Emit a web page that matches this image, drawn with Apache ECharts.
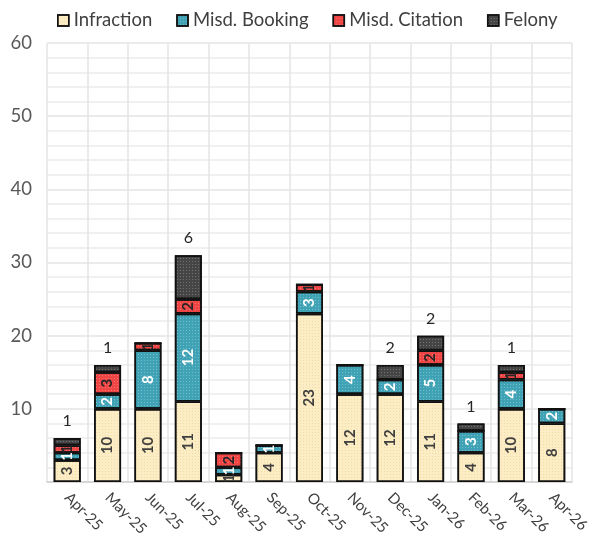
<!DOCTYPE html>
<html><head><meta charset="utf-8">
<script src="https://cdn.jsdelivr.net/npm/echarts@6/dist/echarts.min.js"></script>
<style>html,body{margin:0;padding:0;background:#fff}#c{width:592px;height:539px}</style>
</head><body><div id="c"></div>
<script>
var categories = ['Apr-25','May-25','Jun-25','Jul-25','Aug-25','Sep-25','Oct-25','Nov-25','Dec-25','Jan-26','Feb-26','Mar-26','Apr-26'];
var infraction = [3,10,10,11,1,4,23,12,12,11,4,10,8];
var misdBooking = [1,2,8,12,1,1,3,4,2,5,3,4,2];
var misdCitation = [1,3,1,2,2,0,1,0,0,2,0,1,0];
var felony = [1,1,0,6,0,0,0,0,2,2,1,1,0];
var yTicks = [10,20,30,40,50,60];

var FONT = 'Lato, "Open Sans", sans-serif';
function inner(color){
  return {show:true, rotate:90, position:'inside', color:color, fontFamily:FONT, fontWeight:'bold', fontSize:15,
    formatter:function(p){return p.value>0 ? p.value : '';}};
}
var series = [
  {name:'Infraction', data:infraction, color:'#FDEDC4', dec:'rgba(215,180,110,0.30)', label:inner('#404040')},
  {name:'Misd. Booking', data:misdBooking, color:'#3FA3B5', dec:'rgba(255,255,255,0.28)', label:inner('#ffffff')},
  {name:'Misd. Citation', data:misdCitation, color:'#F04545', dec:'rgba(255,255,255,0.25)', label:inner('#262626')},
  {name:'Felony', data:felony, color:'#454545', dec:'rgba(255,255,255,0.25)', label:{show:true, position:'top', distance:9, color:'#262626', fontFamily:FONT, fontSize:16,
    formatter:function(p){return p.value>0 ? p.value : '';}}}
].map(function(s){
  return {name:s.name, type:'bar', stack:'a', data:s.data, barWidth:27,
    itemStyle:{color:s.color, borderColor:'#111', borderWidth:1.6,
      decal:{symbol:'rect', symbolSize:1, dashArrayX:[1,2], dashArrayY:[1,2], color:s.dec}},
    label:s.label};
});

var chart = echarts.init(document.getElementById('c'), null, {renderer:'canvas'});
chart.setOption({
  animation:false,
  backgroundColor:'#fff',
  legend:{top:6, left:52, itemWidth:11, itemHeight:11, itemGap:24,
    icon:'rect',
    itemStyle:{borderColor:'#111', borderWidth:1.5},
    textStyle:{fontFamily:FONT, fontSize:18.5, color:'#404040'},
    data:series.map(function(s){return s.name;})},
  grid:{left:47, right:16, top:43, bottom:57, containLabel:false},
  xAxis:{type:'category', data:categories,
    axisLine:{lineStyle:{color:'#d0d0d0', width:1.5}},
    axisTick:{show:false},
    splitLine:{show:true, lineStyle:{color:'#e4e4e4', width:1.5}},
    axisLabel:{rotate:-45, interval:0, margin:13, color:'#404040', fontFamily:FONT, fontSize:15}},
  yAxis:{type:'value', min:0, max:60, interval:10,
    axisLine:{show:false}, axisTick:{show:false},
    splitLine:{show:true, lineStyle:{color:'#e4e4e4', width:1.5}},
    minorTick:{show:false, splitNumber:5},
    minorSplitLine:{show:true, lineStyle:{color:'#ececec', width:1.5}},
    axisLabel:{margin:15, color:'#595959', fontFamily:FONT, fontSize:18.5,
      formatter:function(v){return yTicks.indexOf(v)>=0 ? String(v) : '';}}},
  series:series
});
</script></body></html>
